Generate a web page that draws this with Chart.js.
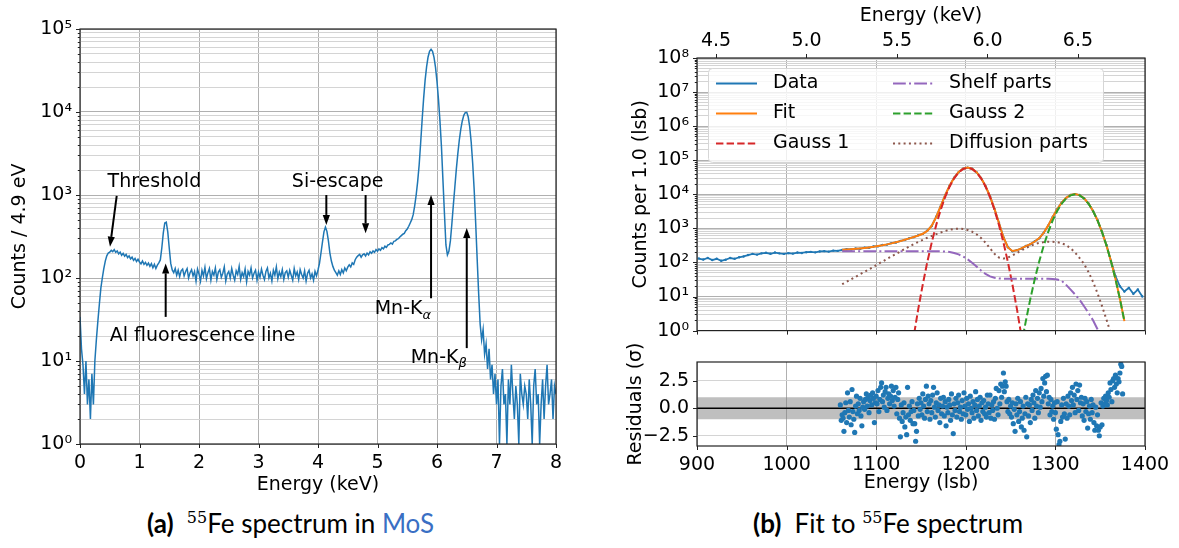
<!DOCTYPE html>
<html>
<head>
<meta charset="utf-8">
<script src="https://cdn.jsdelivr.net/npm/chart.js@4.4.1/dist/chart.umd.min.js"></script>
<style>
  html, body { margin: 0; padding: 0; background: #fff; }
  body { width: 1179px; height: 548px; position: relative; overflow: hidden; }
  canvas { position: absolute; }
  .caption { position: absolute; top: 508px; font-family: Lato, sans-serif; font-size: 26px; line-height: 30px; color: #000; white-space: nowrap; }
  .caption b { font-weight: 700; }
  .caption sup { font-family: 'DejaVu Serif', serif; font-size: 16px; line-height: 0; vertical-align: 10px; }
  .caption .link { color: #3a6fc4; }
</style>
</head>
<body>
<canvas id="spectrum" width="580" height="500" style="left:0;top:0"></canvas>
<canvas id="fit" width="579" height="350" style="left:600px;top:0"></canvas>
<canvas id="resid" width="579" height="160" style="left:600px;top:340px"></canvas>
<div class="caption" style="left:147px"><b>(a)</b>&nbsp; <sup>55</sup>Fe spectrum in <span class="link">MoS</span></div>
<div class="caption" style="left:753px"><b>(b)</b>&nbsp; Fit to <sup>55</sup>Fe spectrum</div>
<script>
// ---- panel (a): full spectrum, 0.025 keV per entry starting at 0 keV ----
const spectrumBinKeV = 0.025;
const spectrumCounts = [
  34, 14, 9, 4, 10, 3, 6, 2, 7, 3, 10, 18, 30, 48, 75, 100, 130, 160, 185, 200,
  205, 215, 208, 220, 204, 212, 195, 205, 188, 198, 183, 192, 176, 185, 170, 178, 163, 172, 158, 168,
  156, 148, 160, 146, 154, 142, 151, 138, 149, 133, 146, 130, 143, 152, 165, 230, 350, 460, 470, 360,
  230, 150, 125, 116, 130, 108, 124, 104, 122, 128, 106, 120, 130, 100, 116, 126, 106, 120, 92, 128,
  112, 92, 124, 106, 134, 98, 116, 130, 94, 120, 108, 132, 96, 118, 126, 102, 114, 136, 92, 112,
  120, 100, 130, 108, 94, 122, 110, 138, 96, 116, 104, 128, 90, 120, 108, 132, 100, 114, 124, 94,
  118, 102, 128, 108, 96, 120, 132, 100, 114, 92, 124, 108, 136, 98, 118, 104, 126, 96, 116, 122,
  102, 124, 108, 94, 130, 106, 118, 96, 126, 110, 100, 122, 92, 114, 124, 100, 112, 94, 120, 106,
  125, 150, 200, 270, 360, 410, 365, 280, 200, 160, 138, 124, 116, 108, 122, 110, 126, 115, 132, 122,
  135, 144, 136, 152, 146, 166, 178, 186, 192, 178, 190, 196, 184, 200, 190, 207, 198, 212, 204, 220,
  210, 224, 216, 232, 224, 242, 234, 250, 254, 264, 256, 277, 280, 292, 298, 312, 324, 337, 344, 372,
  390, 420, 460, 505, 580, 740, 1000, 1450, 2300, 4200, 8000, 14500, 24000, 35000, 46000, 54000, 57000, 54000, 45500, 34500,
  23200, 14100, 7700, 3800, 1500, 600, 250, 190, 210, 280, 450, 760, 1250, 2050, 3150, 4600, 6200, 7800, 9100, 9800,
  9900, 8700, 6600, 4300, 2400, 1150, 460, 170, 65, 28, 18, 24, 12, 16, 8, 14, 6, 9, 4, 7,
  3, 6, 1, 5, 8, 3, 4, 1, 6, 3, 9, 4, 2, 5, 3, 1, 7, 4, 3, 5,
  4, 2, 6, 3, 1, 5, 8, 3, 4, 1, 3, 6, 2, 5, 9, 3, 4, 6, 2, 5,
  4
];

const spectrumLabels = [
  { text: 'Threshold', x: 1.25, y: 1430, align: 'center' },
  { text: 'Al fluorescence line', x: 0.5, y: 20, align: 'left' },
  { text: 'Si-escape', x: 4.33, y: 1420, align: 'center' },
  { text: 'Mn-K', sub: 'α', x: 5.9, y: 42, align: 'right' },
  { text: 'Mn-K', sub: 'β', x: 6.5, y: 11, align: 'right' }
];
// tail -> head, in keV / counts
const spectrumArrows = [
  { from: [0.617, 973], to: [0.504, 238] },
  { from: [1.44, 34], to: [1.44, 150] },
  { from: [4.14, 1000], to: [4.14, 436] },
  { from: [4.80, 1000], to: [4.80, 346] },
  { from: [5.90, 57], to: [5.90, 1000] },
  { from: [6.50, 14.3], to: [6.50, 400] }
];

// ---- panel (b): fit around the Mn-K lines, lsb grid of 5 ----
const gridStepLsb = 5;
const dataStartLsb = 902;
const dataCounts = [
  130, 122, 135, 118, 128, 112, 120, 135, 128, 142, 150, 165,
  178, 170, 185, 192, 180, 195, 185, 178, 188, 182, 195, 190, 200, 205, 198, 210, 215, 208, 222, 218,
  232, 244, 240, 256, 252, 272, 270, 295, 298, 326, 334, 370, 385, 430, 456, 515,
  552, 628, 690, 860, 1180, 2200, 4450, 9500, 18000, 30900, 44700, 56800, 60800, 56600, 44300, 30300, 17300, 8750, 3700, 1460,
  545, 280, 212, 230, 255, 305, 342, 418, 510, 750, 1210, 2170, 3630, 5720, 7850, 9640, 10150, 9500, 7600, 5380,
  3230, 1750, 780, 325, 110, 40, 20, 14,
  18, 12, 16, 10
];

const fitStartLsb = 1062;
const fitTotal = [
  236, 240, 245, 251, 258, 266, 276, 288, 303, 319, 339, 363, 391, 423, 463, 508,
  559, 617, 696, 845, 1201, 2159, 4492, 9430, 18133, 30680, 44942, 56570, 61024, 56358, 44536, 30108, 17446, 8679, 3736, 1440,
  551, 275, 216, 227, 259, 300, 347, 411, 517, 742, 1224, 2148, 3657, 5689, 7882, 9596, 10207, 9463, 7635, 5345,
  3259, 1724, 792, 316, 110, 33, 8.6, 1.9
];
const gauss1 = [
  null, null, null, null, null, null, null, null, null, null, null, null, null, null,
  0.012, 0.1, 0.71, 4.4, 22.8, 102, 388, 1266, 3520, 8380, 17020, 29530, 43790, 55460, 60000,
  55460, 43790, 29530, 17020, 8380, 3520, 1266, 388, 102, 22.8, 4.4, 0.71, 0.1, 0.012,
  null, null, null, null, null, null, null, null, null, null, null, null, null, null, null, null, null, null, null, null, null
];
const gauss2 = [
  null, null, null, null, null, null, null, null, null, null, null, null, null, null, null, null, null, null, null,
  null, null, null, null, null, null, null, null, null, null, null, null, null, null, null, null, null, null, null,
  0.01, 0.065, 0.38, 1.9, 8.5, 32.7, 109, 314, 786, 1710, 3230, 5290, 7540, 9320, 10000,
  9320, 7540, 5290, 3230, 1710, 786, 314, 109, 32.7, 8.5, 1.9
];
const shelfParts = [
  213, 213, 213, 213, 213, 213, 213, 213, 213, 213, 213, 213, 213, 213, 213, 213, 213, 213, 213, 213, 213, 213,
  212, 210, 203, 190, 172, 150, 124, 98, 76, 58,
  46, 39, 35.5, 34, 33.3, 33, 33, 33, 33, 33,
  33, 33, 33, 33, 33, 32.5, 31.5, 29, 22, 16,
  11.5, 8, 5.2, 3.3, 2.0, 1.1, 0.55, 0.25, 0.1, 0.04,
  null, null
];
const diffusionParts = [
  23, 27, 32, 38, 45, 53, 63, 75, 90, 106,
  126, 150, 178, 210, 250, 295, 345, 400, 460, 530,
  600, 680, 760, 840, 910, 960, 980, 960, 900, 800,
  670, 520, 380, 260, 180, 140, 130, 140, 160, 190,
  225, 265, 305, 345, 375, 395, 405, 405, 395, 370,
  320, 260, 195, 135, 90, 52, 27, 12.5, 5.3, 2.1,
  0.8, 0.28, null, null
];

// residuals in units of sigma, one per lsb
const residualStartLsb = 1060;
const residuals = [
  0.3, -1.1, -0.6, -0.9, -2.1, -0.4, 0.5, -1.3, 1.4, -0.2,
  -0.8, 0.6, -1.5, 1.7, -0.3, -1.0, -2.2, 0.2, 1.1, -0.5,
  0.4, -0.2, 0.9, -0.7, -1.6, 0.1, 0.6, -0.1, 0.8, 1.3,
  0.2, 1.0, -0.4, 0.7, 1.2, 0.3, 1.4, 0.9, -1.3, 0.5,
  1.1, 0.4, 1.6, -0.3, 0.8, 1.9, 2.3, 0.6, 1.2, 0.1,
  1.5, 1.9, -0.2, 0.9, 1.3, 0.4, 1.1, 2.0, 0.7, 1.6,
  0.2, 1.0, 1.9, -0.5, 0.8, 1.4, -0.9, -2.6, 0.3, -1.2,
  -0.4, 0.5, -1.7, -0.8, -2.4, 1.9, -0.6, 0.2, -1.1, -0.3,
  0.6, -1.4, -0.2, -1.4, -3.0, -2.1, 0.4, -0.7, 0.9, -0.1,
  0.5, -0.6, 1.3, 0.2, -0.9, 0.8, 2.0, -0.3, 1.1, 0.4,
  -1.0, 0.7, -0.4, 1.2, 1.9, 0.1, -0.8, 0.5, 1.4, -0.2,
  0.3, -1.3, 0.9, -0.5, 0.2, 1.0, -0.7, 0.6, -1.6, 0.1,
  -0.4, 0.8, 0.3, -1.1, 1.3, -0.6, -2.3, 0.4, -0.2, 0.9,
  -0.8, 0.5, 1.2, -0.3, 0.1, -1.0, 0.7, -0.5, 1.4, 0.2,
  -0.6, 0.9, -0.1, 0.4, -1.2, 1.1, 0.0, -0.4, 0.6, -0.9,
  0.3, 1.5, -0.2, 0.8, -0.7, 0.2, 1.0, -1.1, 0.5, -0.3,
  0.7, -0.5, 0.1, -0.8, 1.2, 0.4, -0.4, 1.2, -0.9, 0.3,
  -0.2, 0.6, -1.0, 0.9, 1.8, 0.0, -0.6, 1.6, 0.4, 2.2,
  1.0, 2.0, 3.2, 1.5, 2.4, 2.0, 0.6, -0.3, 0.8, -0.5,
  0.2, -0.8, 0.5, -1.4, -0.1, -2.1, 0.4, -0.6, 0.9, -1.2,
  -0.3, 0.6, -1.7, -0.9, 0.2, -2.0, -0.5, 1.0, -2.6, 0.4,
  -0.7, 0.3, -1.3, 0.8, -0.2, 1.2, 0.5, -0.9, 1.6, 0.2,
  0.9, -0.4, 1.4, 0.1, 1.8, 0.6, 2.7, 1.1, 2.3, 2.9,
  1.5, 3.0, 0.4, 1.0, -0.6, 0.8, -0.3, 0.2, -1.0, 0.5,
  -0.4, -1.9, 0.6, -2.4, -3.3, -3.0, -1.2, 0.3, -0.8, 0.9,
  -0.5, -2.8, 0.4, -0.9, 1.1, 0.2, -0.6, 1.4, 0.7, 1.9,
  0.3, 1.2, -0.4, 2.2, 0.8, 1.6, -0.2, 2.1, 0.5, 1.0,
  -0.7, 0.4, -1.1, 0.9, -0.3, 0.6, -1.8, -0.5, 0.2, -1.0,
  0.8, -0.4, 0.3, -1.3, -2.0, 0.1, -1.6, -0.6, -2.0, -2.5,
  -1.7, 0.5, -1.5, 0.2, 0.9, 0.4, 1.1, 0.7, 0.3, 1.4,
  1.0, 2.3, 1.7, 0.6, 2.5, 2.7, 1.9, 3.0, 2.2, 1.4,
  2.7, 2.4, 3.2, 4.0, 3.8, 1.3
];
const residualBand = [-1, 1];
const lsbRange = [900, 1400];
const keVTicks = [4.5, 5.0, 5.5, 6.0, 6.5];
const residualTicks = [-2.5, 0, 2.5];

// energy calibration of the top axis
const calib = { lsb0: 921.2, keV0: 4.5, lsbPerKeV: 202 };
const toKeV = lsb => calib.keV0 + (lsb - calib.lsb0) / calib.lsbPerKeV;

// ---- helpers ----
Chart.defaults.font.family = 'DejaVu Sans';
Chart.defaults.font.size = 19;
Chart.defaults.color = '#000';

const SUP = { '-': '⁻', '0': '⁰', '1': '¹', '2': '²', '3': '³', '4': '⁴', '5': '⁵', '6': '⁶', '7': '⁷', '8': '⁸', '9': '⁹' };
function decadeLabel(v) {
  const e = Math.round(Math.log10(v));
  if (Math.abs(v - Math.pow(10, e)) > 1e-9 * v) return '';
  return '10' + String(e).split('').map(c => SUP[c]).join('');
}
function logTicks(minExp, maxExp) {
  const t = [];
  for (let e = minExp; e < maxExp; e++) {
    for (let m = 1; m < 10; m++) t.push(m * Math.pow(10, e));
  }
  t.push(Math.pow(10, maxExp));
  return t.map(v => ({ value: v, major: decadeLabel(v) !== '' }));
}
const fixWidth = w => s => { s.width = w; };
const fixHeight = h => s => { s.height = h; };
const gridColor = ctx => (ctx.tick && ctx.tick.major === false) ? '#d4d4d4' : '#b0b0b0';
const onGrid = (start, values) => values.map((v, i) => ({ x: start + i * gridStepLsb, y: v }));
const minusLabel = v => (v < 0 ? '\u2212' : '') + Math.abs(v).toFixed(1);
const plainLabel = v => String(v);

// spines on all four sides plus outward tick marks (short ones for minor log ticks)
const framePlugin = {
  id: 'frame',
  afterDraw(chart) {
    const { ctx, chartArea: a } = chart;
    ctx.save();
    ctx.strokeStyle = '#222';
    ctx.lineWidth = 1;
    Object.values(chart.scales).forEach(scale => {
      scale.ticks.forEach(t => {
        const len = t.major === false ? 2.2 : 4;
        const p = Math.round(scale.getPixelForValue(t.value)) + 0.5;
        ctx.beginPath();
        if (scale.isHorizontal()) {
          const y = scale.position === 'top' ? a.top : a.bottom;
          ctx.moveTo(p, y);
          ctx.lineTo(p, scale.position === 'top' ? y - len : y + len);
        } else {
          ctx.moveTo(a.left, p);
          ctx.lineTo(a.left - len, p);
        }
        ctx.stroke();
      });
    });
    ctx.lineWidth = 1.2;
    ctx.strokeRect(a.left, a.top, a.right - a.left, a.bottom - a.top);
    ctx.restore();
  }
};

function drawArrow(ctx, x0, y0, x1, y1) {
  const ang = Math.atan2(y1 - y0, x1 - x0);
  const hl = 10, hw = 3.6;
  const bx = x1 - hl * Math.cos(ang), by = y1 - hl * Math.sin(ang);
  ctx.beginPath();
  ctx.moveTo(x0, y0);
  ctx.lineTo(bx, by);
  ctx.stroke();
  ctx.beginPath();
  ctx.moveTo(x1, y1);
  ctx.lineTo(bx + hw * Math.sin(ang), by - hw * Math.cos(ang));
  ctx.lineTo(bx - hw * Math.sin(ang), by + hw * Math.cos(ang));
  ctx.closePath();
  ctx.fill();
}

const annotationPlugin = {
  id: 'spectrumNotes',
  afterDatasetsDraw(chart) {
    const { ctx, scales: { x, y } } = chart;
    ctx.save();
    ctx.strokeStyle = '#000';
    ctx.fillStyle = '#000';
    ctx.lineWidth = 2;
    spectrumArrows.forEach(a => {
      drawArrow(ctx, x.getPixelForValue(a.from[0]), y.getPixelForValue(a.from[1]),
                x.getPixelForValue(a.to[0]), y.getPixelForValue(a.to[1]));
    });
    ctx.textBaseline = 'middle';
    spectrumLabels.forEach(l => {
      const px = x.getPixelForValue(l.x), py = y.getPixelForValue(l.y);
      ctx.font = '19px "DejaVu Sans"';
      const w1 = ctx.measureText(l.text).width;
      let w2 = 0;
      if (l.sub) { ctx.font = 'italic 13px "DejaVu Sans"'; w2 = ctx.measureText(l.sub).width; }
      const total = w1 + w2;
      let left = px;
      if (l.align === 'center') left = px - total / 2;
      else if (l.align === 'right') left = px - total;
      ctx.textAlign = 'left';
      ctx.font = '19px "DejaVu Sans"';
      ctx.fillText(l.text, left, py);
      if (l.sub) {
        ctx.font = 'italic 13px "DejaVu Sans"';
        ctx.fillText(l.sub, left + w1, py + 6);
      }
    });
    ctx.restore();
  }
};

const legendPlugin = {
  id: 'fitLegend',
  afterDraw(chart) {
    const { ctx } = chart;
    const box = { x: 108, y: 68, w: 395, h: 94 };
    const rows = [83.5, 113.5, 143.5];
    const handleX = [116, 293], handleLen = 41, textX = [173, 349];
    ctx.save();
    ctx.fillStyle = 'rgba(255,255,255,0.8)';
    ctx.strokeStyle = '#d6d6d6';
    ctx.lineWidth = 1;
    ctx.beginPath();
    ctx.roundRect(box.x + 0.5, box.y + 0.5, box.w, box.h, 4);
    ctx.fill();
    ctx.stroke();
    ctx.font = '19px "DejaVu Sans"';
    ctx.textBaseline = 'middle';
    chart.data.datasets.forEach((ds, i) => {
      const col = Math.floor(i / 3), row = i % 3;
      const y = rows[row];
      ctx.strokeStyle = ds.borderColor;
      ctx.lineWidth = ds.borderWidth;
      ctx.setLineDash(ds.borderDash || []);
      ctx.beginPath();
      ctx.moveTo(handleX[col], y);
      ctx.lineTo(handleX[col] + handleLen, y);
      ctx.stroke();
      ctx.setLineDash([]);
      ctx.fillStyle = '#000';
      ctx.fillText(ds.label, textX[col], y);
    });
    ctx.restore();
  }
};

const baseOptions = {
  animation: false,
  responsive: false,
  devicePixelRatio: 1,
  events: [],
  plugins: { legend: { display: false }, tooltip: { enabled: false } }
};

// ---- panel (a) ----
new Chart(document.getElementById('spectrum'), {
  type: 'line',
  data: {
    datasets: [{
      data: spectrumCounts.map((c, i) => ({ x: i * spectrumBinKeV, y: c })),
      borderColor: '#1f77b4',
      borderWidth: 1.5,
      pointRadius: 0,
      tension: 0
    }]
  },
  options: {
    ...baseOptions,
    layout: { padding: { top: 29, right: 24, left: 0, bottom: 0 } },
    scales: {
      x: {
        type: 'linear', min: 0, max: 8,
        afterFit: fixHeight(56),
        ticks: { stepSize: 1, padding: 8, maxRotation: 0, autoSkip: false, callback: plainLabel },
        grid: { color: '#b0b0b0', drawTicks: false },
        border: { display: false },
        title: { display: true, text: 'Energy (keV)', padding: { top: 0, bottom: 3.6 } }
      },
      y: {
        type: 'logarithmic', min: 1, max: 1e5,
        afterFit: fixWidth(80),
        afterBuildTicks: s => { s.ticks = logTicks(0, 5); },
        ticks: { autoSkip: false, padding: 8, callback: v => decadeLabel(v) },
        grid: { color: gridColor, drawTicks: false },
        border: { display: false },
        title: { display: true, text: 'Counts / 4.9 eV', padding: { top: 8.6, bottom: 0 } }
      }
    }
  },
  plugins: [annotationPlugin, framePlugin]
});

// ---- panel (b), top: spectrum and fit components ----
new Chart(document.getElementById('fit'), {
  type: 'line',
  data: {
    datasets: [
      { label: 'Data', data: onGrid(dataStartLsb, dataCounts), borderColor: '#1f77b4', backgroundColor: '#1f77b4',
        borderWidth: 1.8, pointRadius: 1.2, pointBorderWidth: 0, order: 6 },
      { label: 'Fit', data: onGrid(fitStartLsb, fitTotal), borderColor: '#ff7f0e', borderWidth: 2, pointRadius: 0, order: 5 },
      { label: 'Gauss 1', data: onGrid(fitStartLsb, gauss1), borderColor: '#d62728', borderWidth: 2,
        borderDash: [7.4, 3.2], pointRadius: 0, order: 4 },
      { label: 'Shelf parts', data: onGrid(fitStartLsb, shelfParts), borderColor: '#9467bd', borderWidth: 2,
        borderDash: [12.8, 3.2, 2, 3.2], pointRadius: 0, order: 3 },
      { label: 'Gauss 2', data: onGrid(fitStartLsb, gauss2), borderColor: '#2ca02c', borderWidth: 2,
        borderDash: [7.4, 3.2], pointRadius: 0, order: 2 },
      { label: 'Diffusion parts', data: onGrid(fitStartLsb, diffusionParts), borderColor: '#8c564b', borderWidth: 2,
        borderDash: [2, 3.3], pointRadius: 0, order: 1 }
    ]
  },
  options: {
    ...baseOptions,
    spanGaps: false,
    layout: { padding: { top: 0, right: 34, left: 0, bottom: 0 } },
    scales: {
      x: {
        type: 'linear', min: lsbRange[0], max: lsbRange[1],
        afterFit: fixHeight(5),
        ticks: { display: false, stepSize: 100 },
        grid: { color: '#b0b0b0', drawTicks: false },
        border: { display: false }
      },
      x2: {
        type: 'linear', position: 'top', axis: 'x',
        min: toKeV(lsbRange[0]), max: toKeV(lsbRange[1]),
        afterFit: fixHeight(58),
        afterBuildTicks: s => { s.ticks = keVTicks.map(v => ({ value: v })); },
        ticks: { padding: -2, maxRotation: 0, autoSkip: false, callback: v => Number(v).toFixed(1) },
        grid: { display: false },
        border: { display: false },
        title: { display: true, text: 'Energy (keV)', padding: { top: 5, bottom: 0 } }
      },
      y: {
        type: 'logarithmic', min: 1, max: 1e8,
        afterFit: fixWidth(97),
        afterBuildTicks: s => { s.ticks = logTicks(0, 8); },
        ticks: { autoSkip: false, padding: 8, callback: v => decadeLabel(v) },
        grid: { color: gridColor, drawTicks: false },
        border: { display: false },
        title: { display: true, text: 'Counts per 1.0 (lsb)', padding: { top: 29.6, bottom: 0 } }
      }
    }
  },
  plugins: [framePlugin, legendPlugin]
});

// ---- panel (b), bottom: residuals ----
new Chart(document.getElementById('resid'), {
  type: 'line',
  data: {
    datasets: [
      { data: lsbRange.map(x => ({ x, y: residualBand[0] })), borderWidth: 0, pointRadius: 0, order: 3 },
      { data: lsbRange.map(x => ({ x, y: residualBand[1] })), borderWidth: 0, pointRadius: 0,
        fill: '-1', backgroundColor: 'rgba(128,128,128,0.5)', order: 2 },
      { data: lsbRange.map(x => ({ x, y: 0 })), borderColor: '#000', borderWidth: 1.5, pointRadius: 0, order: 1 },
      { data: residuals.map((r, i) => ({ x: residualStartLsb + i, y: r })), showLine: false,
        pointRadius: 2.6, pointBorderWidth: 0, pointBackgroundColor: '#1f77b4', order: 0 }
    ]
  },
  options: {
    ...baseOptions,
    layout: { padding: { top: 22, right: 34, left: 0, bottom: 0 } },
    scales: {
      x: {
        type: 'linear', min: lsbRange[0], max: lsbRange[1],
        afterFit: fixHeight(54),
        ticks: { stepSize: 100, padding: 8, maxRotation: 0, autoSkip: false, callback: plainLabel },
        grid: { color: '#b0b0b0', drawTicks: false },
        border: { display: false },
        title: { display: true, text: 'Energy (lsb)', padding: { top: 0, bottom: 5.6 } }
      },
      y: {
        type: 'linear', min: -3.43, max: 4.2,
        afterFit: fixWidth(97),
        afterBuildTicks: s => { s.ticks = residualTicks.map(v => ({ value: v })); },
        ticks: { autoSkip: false, padding: 8, callback: v => minusLabel(v) },
        grid: { color: '#d4d4d4', drawTicks: false },
        border: { display: false },
        title: { display: true, text: 'Residuals (σ)', padding: { top: 24.6, bottom: 0 } }
      }
    }
  },
  plugins: [framePlugin]
});
</script>
</body>
</html>
